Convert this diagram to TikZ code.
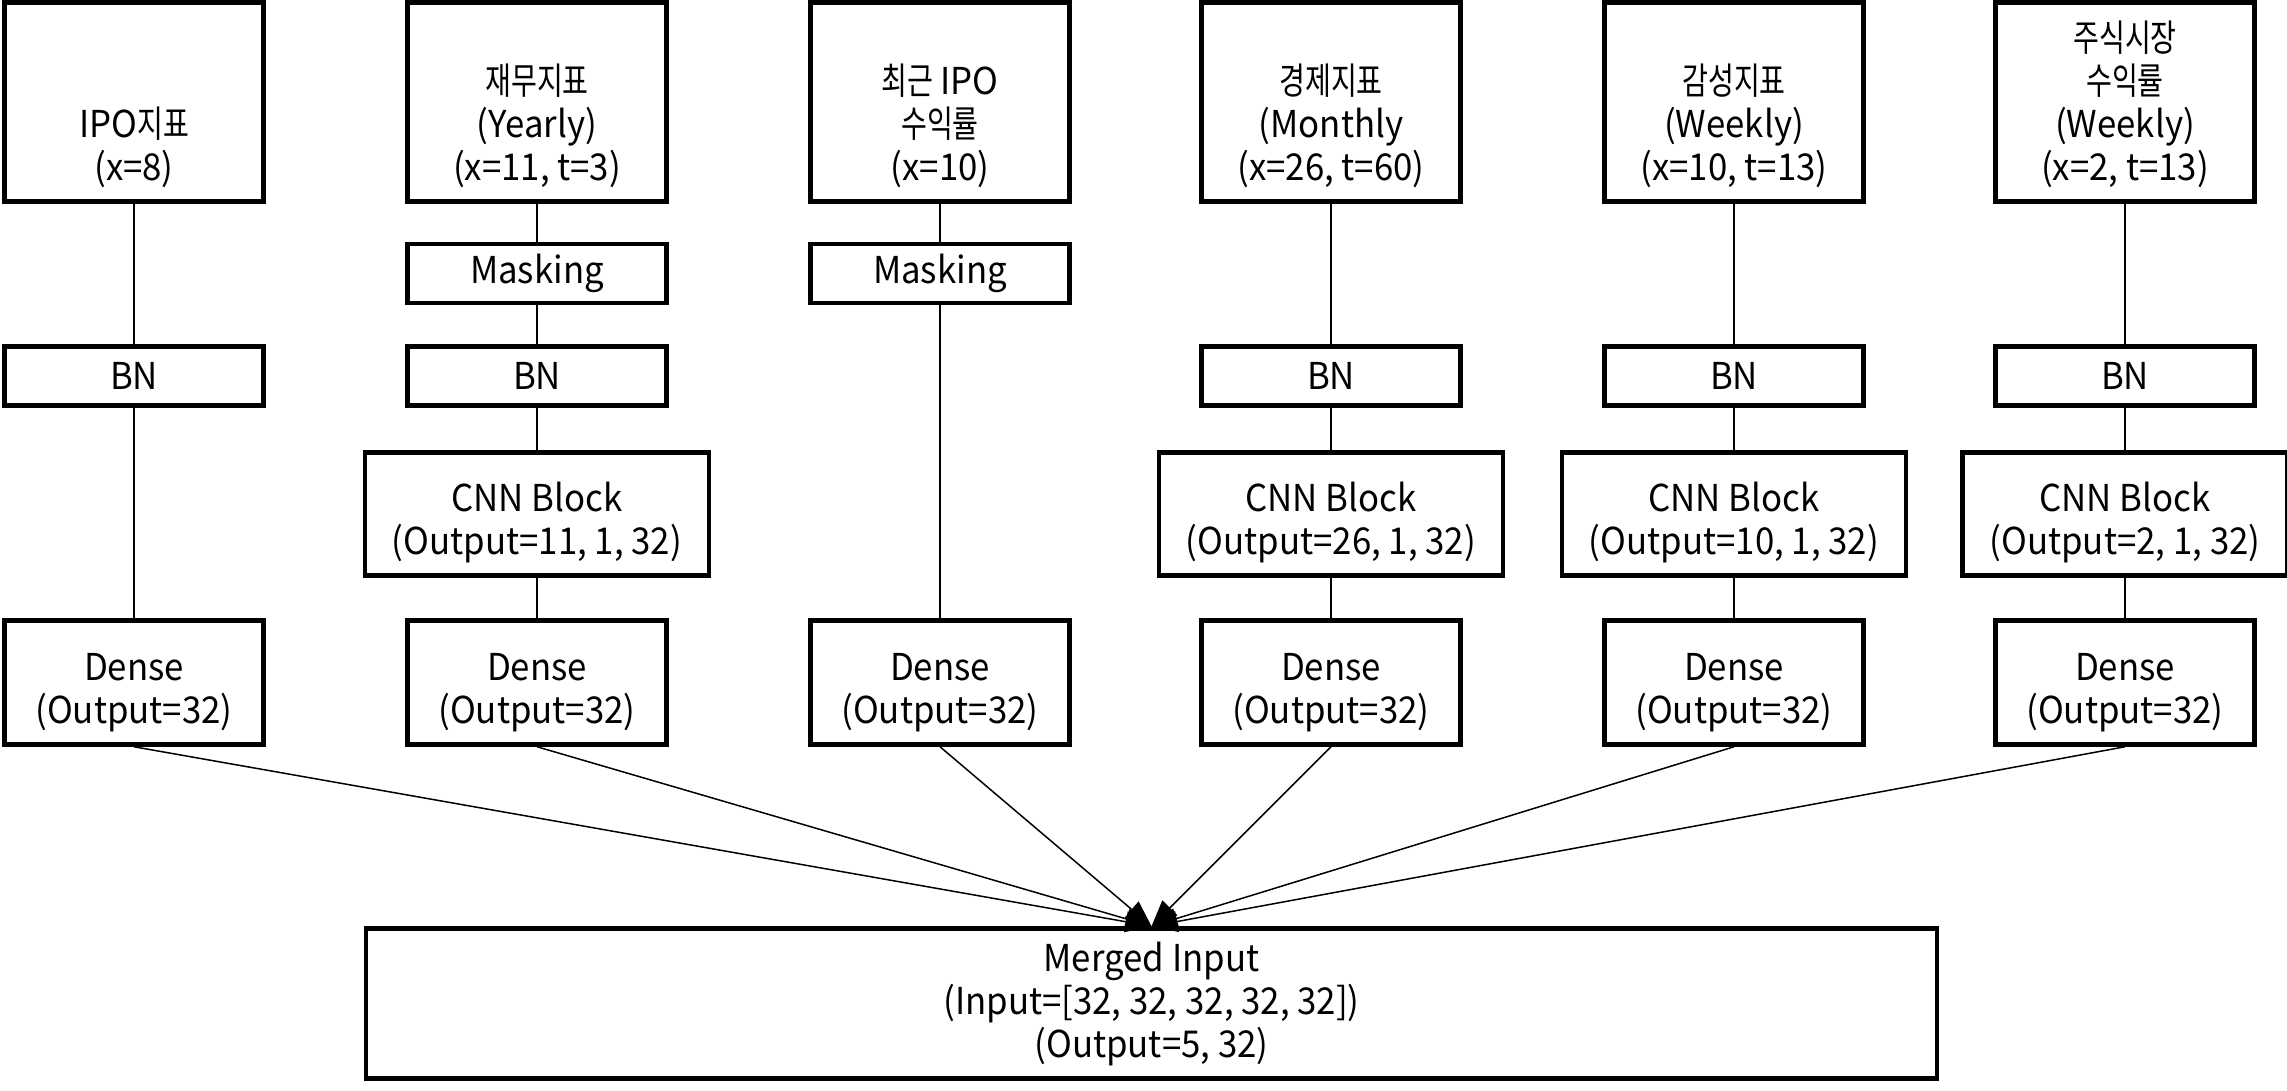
\documentclass[tikz,border=0pt]{standalone}
\usepackage{fontspec}
\setmainfont[FakeStretch=0.94]{Noto Sans CJK KR}
\newfontfamily\kr[FakeStretch=0.76]{Noto Sans CJK KR}
\usetikzlibrary{arrows.meta}

\newcommand{\inlabel}[1]{\parbox[c][165pt][b]{250pt}{\centering #1}}
\newcommand{\lowstrut}{\rule{0pt}{47pt}}

\begin{document}
\begin{tikzpicture}[x=1pt,y=-1pt,font=\fontsize{37}{43}\selectfont,
    layer box/.style={draw,line width=4.5pt,inner sep=0pt,minimum width=259pt,align=center},
    in box/.style={layer box,minimum height=199pt},
    cnn box/.style={draw,line width=4.5pt,inner xsep=27pt,inner ysep=0pt,minimum height=123pt,align=center},
    link/.style={line width=1.5pt},
    merge arrow/.style={line width=1.5pt,-{Triangle[length=26pt,width=21pt]}}]
\useasboundingbox (0,0) rectangle (2287,1090);

%Input boxes
\foreach \c/\x/\txt in {1/134/{IPO{\kr 지표}\\(x=8)},
                        2/537/{{\kr 재무지표}\\(Yearly)\\(x=11, t=3)},
                        3/940/{{\kr 최근} IPO\\{\kr 수익률}\\(x=10)},
                        4/1331/{{\kr 경제지표}\\(Monthly\\(x=26, t=60)},
                        5/1734/{{\kr 감성지표}\\(Weekly)\\(x=10, t=13)},
                        6/2125/{{\kr 주식시장}\\{\kr 수익률}\\(Weekly)\\(x=2, t=13)}}
   \node[in box] (In\c) at (\x,102) {\inlabel{\txt}};

%Masking
\foreach \c/\x in {2/537,3/940}
   \node[layer box,minimum height=59pt] (Ma\c) at (\x,273.5) {Masking};

%BN
\foreach \c/\x in {1/134,2/537,4/1331,5/1734,6/2125}
   \node[layer box,minimum height=59pt] (BN\c) at (\x,376) {BN};

%CNN blocks
\foreach \c/\x/\n in {2/537/11,4/1331/26,5/1734/10,6/2125/2}
   \node[cnn box] (CNN\c) at (\x,514) {\lowstrut CNN Block\\(Output=\n, 1, 32)};

%Dense
\foreach \c/\x in {1/134,2/537,3/940,4/1331,5/1734,6/2125}
   \node[layer box,minimum height=124pt] (De\c) at (\x,682.5) {\lowstrut Dense\\(Output=32)};

\node[layer box,minimum width=1571pt,minimum height=150pt] (Merged) at (1151.5,1003.5)
   {Merged Input\\(Input=[32, 32, 32, 32, 32])\\(Output=5, 32)};

%Links
\draw[link] (In1) -- (BN1) -- (De1);
\draw[link] (In2) -- (Ma2) -- (BN2) -- (CNN2) -- (De2);
\draw[link] (In3) -- (Ma3) -- (De3);
\foreach \c in {4,5,6}
   \draw[link] (In\c) -- (BN\c) -- (CNN\c) -- (De\c);

\foreach \c in {1,...,6}
   \draw[merge arrow] (De\c.south) -- (Merged.north);

\end{tikzpicture}
\end{document}
